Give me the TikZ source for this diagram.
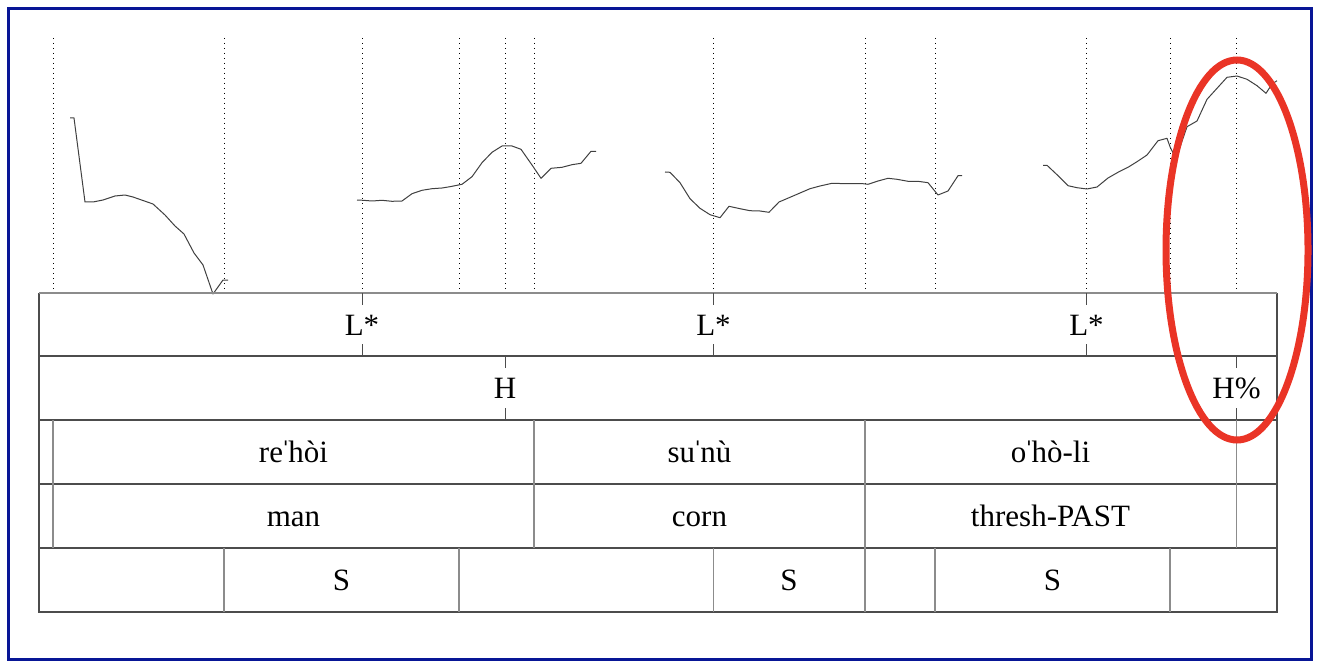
\documentclass[tikz,border=0pt]{standalone}
\usepackage{fontspec}
\setmainfont{Liberation Serif}
\definecolor{frameblue}{RGB}{8,22,150}
\definecolor{ringred}{RGB}{234,52,38}
\newcommand{\stressmk}{\kern-0.08emˈ\kern-0.08em}

\begin{document}
\begin{tikzpicture}
    [x=0.5pt, y=-0.5pt,
     tier/.style={draw=black!70, line width=0.6pt},
     cell/.style={draw=black!45, line width=0.6pt},
     guide/.style={dotted, line width=0.5pt},
     tick/.style={draw=black!70, line width=0.5pt},
     pitch/.style={black!75, line width=0.5pt, line join=round},
     label/.style={font=\fontsize{15.5}{18}\selectfont, inner sep=0pt, anchor=base}]
    \useasboundingbox (0,0) rectangle (1326,668);
    \draw[frameblue, line width=1.5pt] (8,9) rectangle (1311,659);
    \foreach \x in {53,224,362,459,505,534,713.5,865,935,1086.5,1170,1236.5}
      \draw[guide] (\x,38) -- (\x,293);
    \draw[pitch] (70,118) -- (74,118) -- (85,202) -- (93,202) -- (103,200) -- (115,196)
      -- (125,195) -- (133,197) -- (153,204) -- (165,215) -- (175,226) -- (184,234)
      -- (194,253) -- (203,265) -- (213,294) -- (223,280) -- (228,280);
    \draw[pitch] (357,200) -- (363,200.3) -- (372,201) -- (382,200.3) -- (392,201.3)
      -- (402,201) -- (412,193.7) -- (422,190.3) -- (432,188.7) -- (442,188) -- (450,186.7)
      -- (462,184.3) -- (472,176.7) -- (482,162.7) -- (492,152.3) -- (502,146) -- (512,146)
      -- (521,149.3) -- (532,165) -- (541,178.3) -- (551,168.3) -- (562,167.3)
      -- (572,164.7) -- (581,163.3) -- (591,151.3) -- (596,151.3);
    \draw[pitch] (665,172) -- (670,172.3) -- (680,182.7) -- (690,198.7) -- (700,208.3)
      -- (710,214.7) -- (720,217.7) -- (729,206.3) -- (740,208.7) -- (750,210.7)
      -- (760,211) -- (769,212.3) -- (779,202) -- (790,197.3) -- (800,193) -- (810,188.7)
      -- (820,186) -- (832,183.3) -- (847,183.7) -- (863,183.7) -- (868,184.3)
      -- (878,181) -- (888,178.3) -- (897,179.3) -- (908,181.3) -- (918,181.3)
      -- (928,182.7) -- (938,195) -- (948,191) -- (958,175.7) -- (962,175.7);
    \draw[pitch] (1043,165.3) -- (1047,165.3) -- (1057,174.7) -- (1068,185.7)
      -- (1077,187.7) -- (1087,189) -- (1097,187) -- (1108,178) -- (1118,172.3)
      -- (1128,167.3) -- (1137,161.7) -- (1147,155) -- (1158,140.7) -- (1167,138.3)
      -- (1170,146.7) -- (1176,158.7) -- (1187,126.7) -- (1197,121) -- (1207,99.3)
      -- (1217,88.3) -- (1227,77.3) -- (1237,76) -- (1247,79.3) -- (1257,85.7)
      -- (1266,93.3) -- (1272,84) -- (1277,80.7);
    \draw[tier] (39,293) -- (39,612) -- (1277,612) -- (1277,293);
    \draw[cell] (39,293) -- (1277,293);
    \foreach \y in {356,420,484,548}
      \draw[tier] (39,\y) -- (1277,\y);
    \foreach \x in {362,713.5,1086.5}
      \draw[tick] (\x,293) -- (\x,305) (\x,344) -- (\x,356);
    \foreach \x in {505,1236.5}
      \draw[tick] (\x,356) -- (\x,368) (\x,408) -- (\x,420);
    \foreach \x in {53,534,865,1236.5}
      \draw[cell] (\x,420) -- (\x,548);
    \foreach \x in {224,459,713.5,865,935,1170}
      \draw[cell] (\x,548) -- (\x,612);
    \node[label] (lstar1) at (362,335) {L*};
    \node[label] (lstar2) at (713.5,335) {L*};
    \node[label] (lstar3) at (1086.5,335) {L*};
    \node[label] (hphrase) at (505,398) {H};
    \node[label] (hbound) at (1236.5,398) {H\%};
    \node[label] (word1) at (293.5,462) {re\stressmk hòi};
    \node[label] (word2) at (699.5,462) {su\stressmk nù};
    \node[label] (word3) at (1050.5,462) {o\stressmk hò-li};
    \node[label] (gloss1) at (293.5,526) {man};
    \node[label] (gloss2) at (699.5,526) {corn};
    \node[label] (gloss3) at (1050.5,526) {thresh-PAST};
    \node[label] (stress1) at (341.5,590) {S};
    \node[label] (stress2) at (789,590) {S};
    \node[label] (stress3) at (1052.5,590) {S};
    \draw[ringred, line width=3.5pt] (1237,250) ellipse [x radius=71, y radius=190];
  \end{tikzpicture}
\end{document}
